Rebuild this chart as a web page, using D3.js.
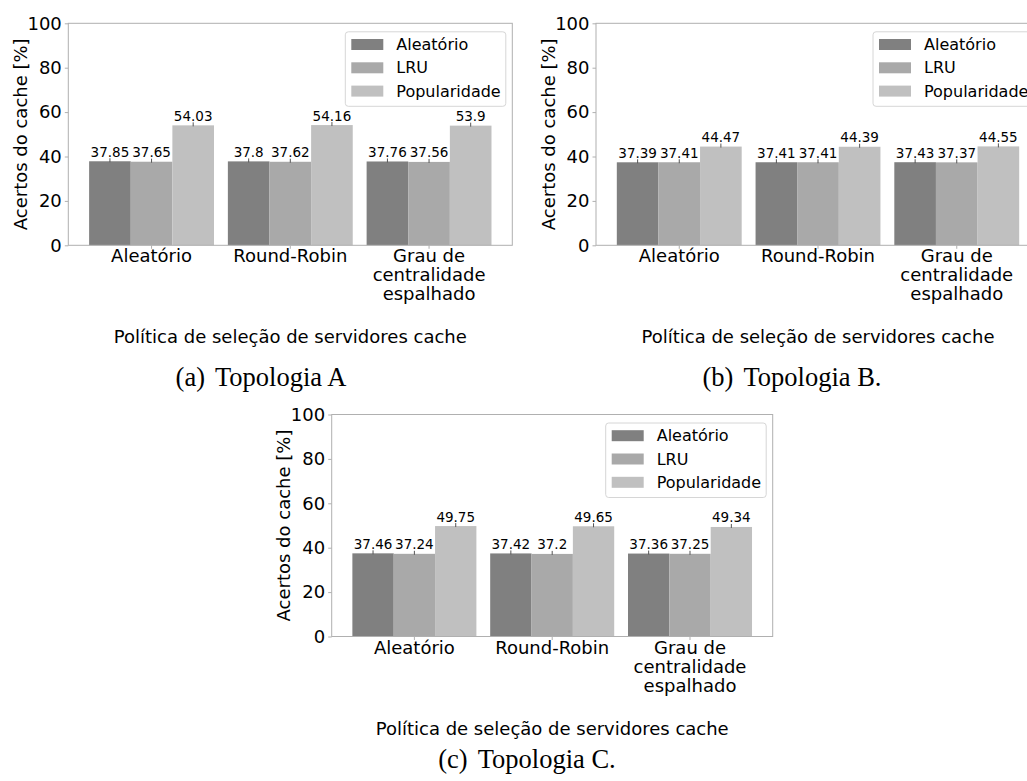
<!DOCTYPE html>
<html>
<head>
<meta charset="utf-8">
<script src="https://cdn.jsdelivr.net/npm/d3@7"></script>
<style>
  body { margin: 0; background: #fff; }
  svg { display: block; font-family: 'DejaVu Sans', sans-serif; }
  .caption { font-family: 'Liberation Serif', 'Times New Roman', serif; }
</style>
</head>
<body>
<div id="chart"></div>
<script>
// categories and series
const categories = ['Aleatório', 'Round-Robin', 'Grau de\ncentralidade\nespalhado'];
const seriesNames = ['Aleatório', 'LRU', 'Popularidade'];
const seriesColors = ['#808080', '#a9a9a9', '#c0c0c0'];
const yTicks = [0, 20, 40, 60, 80, 100];

// Topologia A
const topoARandom = [37.85, 37.8, 37.76];
const topoALru = [37.65, 37.62, 37.56];
const topoAPop = [54.03, 54.16, 53.9];

// Topologia B
const topoBRandom = [37.39, 37.41, 37.43];
const topoBLru = [37.41, 37.41, 37.37];
const topoBPop = [44.47, 44.39, 44.55];

// Topologia C
const topoCRandom = [37.46, 37.42, 37.36];
const topoCLru = [37.24, 37.2, 37.25];
const topoCPop = [49.75, 49.65, 49.34];

const xTitle = 'Política de seleção de servidores cache';
const yTitle = 'Acertos do cache [%]';

const PLOT_H = 222;
const BAR_W = 0.3;
const FRAME = '#b0b0b0';

const svg = d3
  .select('#chart')
  .append('svg')
  .attr('width', 1027)
  .attr('height', 781);

function drawPanel(left, top, plotW, values, caption) {
  const g = svg.append('g').attr('transform', 'translate(' + left + ',' + top + ')');

  const x = d3.scaleLinear().domain([-0.6, 2.6]).range([0, plotW]);
  const y = d3.scaleLinear().domain([0, 100]).range([PLOT_H, 0]);
  const bw = x(BAR_W) - x(0);

  // bars, one group per series
  values.forEach((vals, j) => {
    const sg = g.append('g').attr('class', 'series');
    const xs = (i) => x(i + (j - 1) * BAR_W - BAR_W / 2);
    sg.selectAll('rect')
      .data(vals)
      .join('rect')
      .attr('x', (d, i) => xs(i))
      .attr('y', (d) => y(d))
      .attr('width', bw)
      .attr('height', (d) => y(0) - y(d))
      .attr('fill', seriesColors[j]);

    // tiny error marks on top of bars
    sg.selectAll('line')
      .data(vals)
      .join('line')
      .attr('x1', (d, i) => xs(i) + bw / 2)
      .attr('x2', (d, i) => xs(i) + bw / 2)
      .attr('y1', (d) => y(d) - 3)
      .attr('y2', (d) => y(d) + 1)
      .attr('stroke', '#555')
      .attr('stroke-width', 1);

    sg.selectAll('text')
      .data(vals)
      .join('text')
      .attr('x', (d, i) => xs(i) + bw / 2)
      .attr('y', (d) => y(d) - 4.5)
      .attr('text-anchor', 'middle')
      .attr('font-size', 13.5)
      .attr('fill', '#000')
      .text((d) => String(d));
  });

  // frame
  g.append('rect')
    .attr('width', plotW)
    .attr('height', PLOT_H)
    .attr('fill', 'none')
    .attr('stroke', FRAME)
    .attr('stroke-width', 1);

  // y axis
  const yAxis = g.append('g').call(
    d3.axisLeft(y).tickValues(yTicks).tickSize(3.5).tickPadding(3)
  );
  yAxis.select('.domain').remove();
  yAxis.selectAll('.tick line').attr('stroke', FRAME);
  yAxis.selectAll('.tick text')
    .attr('font-size', 18)
    .attr('font-family', 'DejaVu Sans')
    .attr('fill', '#000');

  // x ticks and multi-line labels
  const xTickG = g.append('g').attr('transform', 'translate(0,' + PLOT_H + ')');
  const ticks = xTickG.selectAll('g')
    .data(categories)
    .join('g')
    .attr('transform', (d, i) => 'translate(' + x(i) + ',0)');
  ticks.append('line').attr('y2', 3.5).attr('stroke', FRAME);
  ticks.append('text')
    .attr('text-anchor', 'middle')
    .attr('font-size', 18)
    .attr('fill', '#000')
    .selectAll('tspan')
    .data((d) => d.split('\n'))
    .join('tspan')
    .attr('x', 0)
    .attr('y', (d, k) => 17 + k * 19)
    .text((d) => d);

  // axis titles
  g.append('text')
    .attr('x', plotW / 2)
    .attr('y', PLOT_H + 98)
    .attr('text-anchor', 'middle')
    .attr('font-size', 18)
    .text(xTitle);

  g.append('text')
    .attr('transform', 'translate(' + (-48) + ',' + PLOT_H / 2 + ') rotate(-90)')
    .attr('text-anchor', 'middle')
    .attr('dominant-baseline', 'central')
    .attr('font-size', 18)
    .text(yTitle);

  // legend
  const lg = g.append('g').attr('transform', 'translate(' + (plotW - 167) + ',8.5)');
  lg.append('rect')
    .attr('width', 160.5)
    .attr('height', 74.5)
    .attr('rx', 3)
    .attr('fill', '#fff')
    .attr('fill-opacity', 0.8)
    .attr('stroke', '#d6d6d6');
  const rows = lg.selectAll('g.row')
    .data(seriesNames)
    .join('g')
    .attr('class', 'row')
    .attr('transform', (d, i) => 'translate(0,' + (12.7 + i * 23.3) + ')');
  rows.append('rect')
    .attr('x', 6)
    .attr('y', -5.5)
    .attr('width', 32)
    .attr('height', 11)
    .attr('fill', (d, i) => seriesColors[i]);
  rows.append('text')
    .attr('x', 51)
    .attr('dominant-baseline', 'central')
    .attr('font-size', 16)
    .text((d) => d);

  // caption
  const cap = svg.append('text')
    .attr('class', 'caption')
    .attr('x', caption.x)
    .attr('y', caption.y)
    .attr('text-anchor', 'middle')
    .attr('font-size', 26.5);
  cap.append('tspan').text(caption.label);
  cap.append('tspan').attr('dx', 10).text(caption.text);
}

drawPanel(68.3, 23.3, 444, [topoARandom, topoALru, topoAPop], { x: 261, y: 386, label: '(a)', text: 'Topologia A' });
drawPanel(596, 23.3, 444, [topoBRandom, topoBLru, topoBPop], { x: 792, y: 386, label: '(b)', text: 'Topologia B.' });
drawPanel(331.7, 414.5, 441, [topoCRandom, topoCLru, topoCPop], { x: 527, y: 768, label: '(c)', text: 'Topologia C.' });
</script>
</body>
</html>
